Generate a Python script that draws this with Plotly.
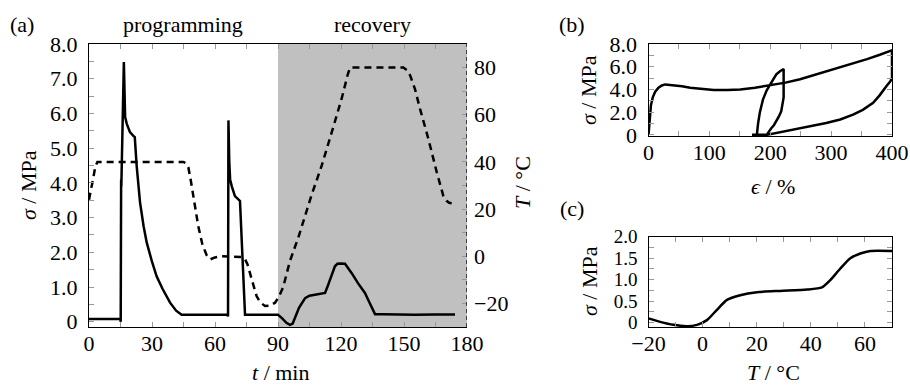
import plotly.graph_objects as go

# ---------------- data ----------------
# panel (a): stress vs time
t_stress = [0, 15.0, 15.1, 15.3, 15.4, 16.6, 16.9, 17.2, 18.0, 19.5, 21.0, 21.8, 22.7, 24.3, 26.0, 27.5,
            30.0, 32.2, 35.0, 38.6, 41.5, 44.1, 55, 66.0, 66.2, 66.4, 66.8, 67.2, 68.0, 69.5, 71.9, 74.3,
            90, 92, 94, 95.7, 97, 98.1, 100, 102.9, 105, 107.6, 110, 112.4, 113.5, 114.8, 116, 117.1,
            118.3, 119.5, 121.9, 123.5, 125.1, 128, 131.4, 134, 136.2, 140, 145.7, 155, 165, 174.3]
sigma_a = [0.08, 0.08, 0.0, 4.1, 3.9, 7.48, 6.3, 5.9, 5.7, 5.46, 5.36, 5.32, 4.49, 3.44, 2.75, 2.28,
           1.73, 1.31, 0.95, 0.55, 0.32, 0.2, 0.2, 0.2, 0.15, 5.8, 4.6, 4.1, 3.9, 3.62, 3.48, 0.2,
           0.2, 0.1, -0.03, -0.09, -0.05, 0.1, 0.4, 0.68, 0.75, 0.78, 0.8, 0.83, 1.0, 1.21, 1.45, 1.6,
           1.67, 1.68, 1.67, 1.55, 1.4, 1.12, 0.83, 0.5, 0.22, 0.22, 0.21, 0.2, 0.21, 0.21]
# panel (a): temperature vs time
t_temp = [0, 1, 2, 3, 4, 20, 44.9, 46, 47.3, 48.5, 49.7, 52, 54, 56, 57.8, 60, 63, 70.3, 72.5, 74.3,
          75.5, 77.5, 79.8, 81.5, 83.8, 86, 88.6, 90.5, 92.5, 95.7, 99.7, 106, 110.8, 115.6, 120.3,
          123.2, 124.3, 149.7, 151.3, 152.9, 155.2, 157.6, 161.6, 165.6, 168.7, 170.3, 171.5, 172.7]
temp_a = [24, 28, 33, 38, 40, 40, 40, 39.5, 37.7, 32, 25.7, 12.9, 5, 0.5, -1.3, -0.5, 0, 0, -0.3, -1.3,
          -3.5, -9.8, -16.9, -19.5, -21.1, -21, -19.7, -17, -13, -2, 8, 26, 38.4, 52.6, 66.8,
          77, 80, 80, 79, 76.7, 71, 62.6, 49.8, 35.6, 25.7, 23.5, 22.7, 22.5]

# panel (b): stress vs strain
eps_b = [0, 2, 4, 7, 11, 16.4, 22, 27.4, 41, 55, 68.5, 88, 107, 130, 150.7, 175, 200, 225, 249, 275,
         304, 330, 359, 380, 398, 400, 400, 397, 391, 380, 369, 352, 336, 315, 292, 270, 249, 228, 205,
         194, 170, 178, 180, 183, 188, 194, 200, 210, 216, 222, 222, 220, 218, 214, 210, 206, 202, 198, 194]
sigma_b = [0, 1.5, 2.6, 3.3, 3.8, 4.15, 4.35, 4.44, 4.39, 4.28, 4.15, 4.03, 3.94, 3.95, 4.0, 4.15, 4.36,
           4.6, 4.89, 5.3, 5.8, 6.2, 6.67, 7.05, 7.4, 7.45, 5.0, 4.7, 4.3, 3.5, 2.82, 2.2, 1.78, 1.35,
           1.04, 0.8, 0.6, 0.38, 0.15, 0.0, 0.0, 0.0, 1.0, 2.0, 3.1, 3.9, 4.44, 5.33, 5.6, 5.8, 3.3,
           2.5, 2.07, 1.6, 1.19, 0.85, 0.6, 0.3, 0.0]

# panel (c): stress vs temperature
T_c = [-20, -15.7, -10.8, -5.8, -2.1, 1.6, 5.3, 9, 13.9, 20.1, 28.7, 38.6, 44.1, 47.2, 50.9, 54.6,
       58.3, 62, 70]
sigma_c = [0.10, 0.02, -0.05, -0.08, -0.05, 0.06, 0.3, 0.53, 0.64, 0.71, 0.74, 0.77, 0.82, 0.99,
           1.26, 1.5, 1.61, 1.67, 1.67]

# tick labels
a_x_ticks = [0, 30, 60, 90, 120, 150, 180]
a_y_ticks = [0, 1, 2, 3, 4, 5, 6, 7, 8]
a_y_text = ["0", "1.0", "2.0", "3.0", "4.0", "5.0", "6.0", "7.0", "8.0"]
a_y2_ticks = [-20, 0, 20, 40, 60, 80]
a_y2_text = ["\u221220", "0", "20", "40", "60", "80"]
b_x_ticks = [0, 100, 200, 300, 400]
b_y_ticks = [0, 2, 4, 6, 8]
b_y_text = ["0", "2.0", "4.0", "6.0", "8.0"]
c_x_ticks = [-20, 0, 20, 40, 60]
c_x_text = ["\u221220", "0", "20", "40", "60"]
c_y_ticks = [0, 0.5, 1.0, 1.5, 2.0]
c_y_text = ["0", "0.5", "1.0", "1.5", "2.0"]

# ---------------- layout helpers ----------------
W, H = 910, 387
FONT = "Liberation Serif"
FS = 22


def px(x):
    return x / W


def py(y):
    return 1 - y / H


TICKC = "#999999"
LINEC = "black"

fig = go.Figure()

fig.add_trace(go.Scatter(x=t_stress, y=sigma_a, mode="lines", xaxis="x", yaxis="y",
                         line=dict(color="black", width=2.5), showlegend=False))
fig.add_trace(go.Scatter(x=t_temp, y=temp_a, mode="lines", xaxis="x", yaxis="y2",
                         line=dict(color="black", width=2.5, dash="7px,5px"), showlegend=False))
fig.add_trace(go.Scatter(x=eps_b, y=sigma_b, mode="lines", xaxis="x3", yaxis="y3",
                         line=dict(color="black", width=2.5), showlegend=False))
fig.add_trace(go.Scatter(x=T_c, y=sigma_c, mode="lines", xaxis="x4", yaxis="y4",
                         line=dict(color="black", width=2.5, shape="spline", smoothing=0.6),
                         showlegend=False))


def axis_common(fs=FS, **kw):
    d = dict(showgrid=False, zeroline=False, showline=True, linecolor=LINEC, linewidth=1.3,
             ticks="inside", ticklen=5, tickcolor=TICKC, tickwidth=1, automargin=False,
             tickfont=dict(family=FONT, size=fs, color="black"), tickmode="array")
    d.update(kw)
    return d


a_dom_x = [px(89), px(467)]
a_dom_y = [py(327), py(44)]
b_dom_x = [px(648.5), px(892)]
b_dom_y = [py(136), py(44)]
c_dom_x = [px(648.5), px(892)]
c_dom_y = [py(327), py(236.7)]

fig.update_layout(
    template="none",
    width=W, height=H, margin=dict(l=0, r=0, t=0, b=0, pad=0, autoexpand=False),
    paper_bgcolor="white", plot_bgcolor="white",
    font=dict(family=FONT, size=FS, color="black"),
    xaxis=axis_common(domain=a_dom_x, range=[0, 180], anchor="y", mirror="ticks",
                      tickvals=a_x_ticks, ticktext=[str(v) for v in a_x_ticks],
                      minor=dict(dtick=15, tick0=0, ticks="inside", ticklen=5, tickcolor=TICKC),
                      ticklabelstandoff=-4),
    yaxis=axis_common(domain=a_dom_y, range=[-0.15, 8.0], anchor="x", mirror=False,
                      tickvals=a_y_ticks, ticktext=a_y_text,
                      minor=dict(dtick=0.5, tick0=0, ticks="inside", ticklen=5, tickcolor=TICKC),
                      ticklabelstandoff=6),
    yaxis2=axis_common(domain=a_dom_y, range=[-30, 90], anchor="x", overlaying="y", side="right",
                       showline=False, tickvals=a_y2_ticks, ticktext=a_y2_text,
                       minor=dict(dtick=10, tick0=0, ticks="inside", ticklen=5, tickcolor=TICKC),
                       ticklabelstandoff=6),
    xaxis3=axis_common(domain=b_dom_x, range=[0, 400], anchor="y3", mirror="ticks",
                       tickvals=b_x_ticks, ticktext=[str(v) for v in b_x_ticks],
                       minor=dict(dtick=50, tick0=0, ticks="inside", ticklen=5, tickcolor=TICKC),
                       ticklabelstandoff=-4),
    yaxis3=axis_common(domain=b_dom_y, range=[-0.1, 8.0], anchor="x3", mirror="ticks",
                       tickvals=b_y_ticks, ticktext=b_y_text,
                       minor=dict(dtick=1, tick0=0, ticks="inside", ticklen=5, tickcolor=TICKC),
                       ticklabelstandoff=6),
    xaxis4=axis_common(domain=c_dom_x, range=[-20, 70], anchor="y4", mirror="ticks",
                       tickvals=c_x_ticks, ticktext=c_x_text,
                       minor=dict(dtick=10, tick0=0, ticks="inside", ticklen=5, tickcolor=TICKC),
                       ticklabelstandoff=-4),
    yaxis4=axis_common(fs=19, domain=c_dom_y, range=[-0.1, 2.0], anchor="x4", mirror="ticks",
                       tickvals=c_y_ticks, ticktext=c_y_text,
                       minor=dict(dtick=0.25, tick0=0, ticks="inside", ticklen=5, tickcolor=TICKC),
                       ticklabelstandoff=6),
)

# grey recovery region
fig.add_shape(type="rect", xref="x", yref="y domain", x0=90, x1=180, y0=0, y1=1,
              fillcolor="#c0c0c0", line=dict(width=0), layer="below")
# dashed right axis line
fig.add_shape(type="line", xref="x", yref="y domain", x0=180, x1=180, y0=0, y1=1,
              line=dict(color="black", width=1.3, dash="4px,3px"), layer="above")


def ann(text, x, y, angle=0, xanchor="center"):
    fig.add_annotation(text=text, x=px(x), y=py(y), xref="paper", yref="paper",
                       showarrow=False, textangle=angle, xanchor=xanchor, yanchor="middle",
                       font=dict(family=FONT, size=FS, color="black"))


ann("(a)", 22, 25)
ann("programming", 183, 25)
ann("recovery", 372, 25)
ann("<i>σ</i> / MPa", 28, 185, angle=-90)
ann("<i>T</i> / °C", 523, 183, angle=-90)
ann("<i>t</i> / min", 280, 372)
ann("(b)", 572, 25)
ann("<i>σ</i> / MPa", 589, 90, angle=-90)
ann("<i>ϵ</i> / %", 773, 186)
ann("(c)", 572, 208)
ann("<i>σ</i> / MPa", 589, 281, angle=-90)
ann("<i>T</i> / °C", 773, 372)

fig.write_html("out.html")
